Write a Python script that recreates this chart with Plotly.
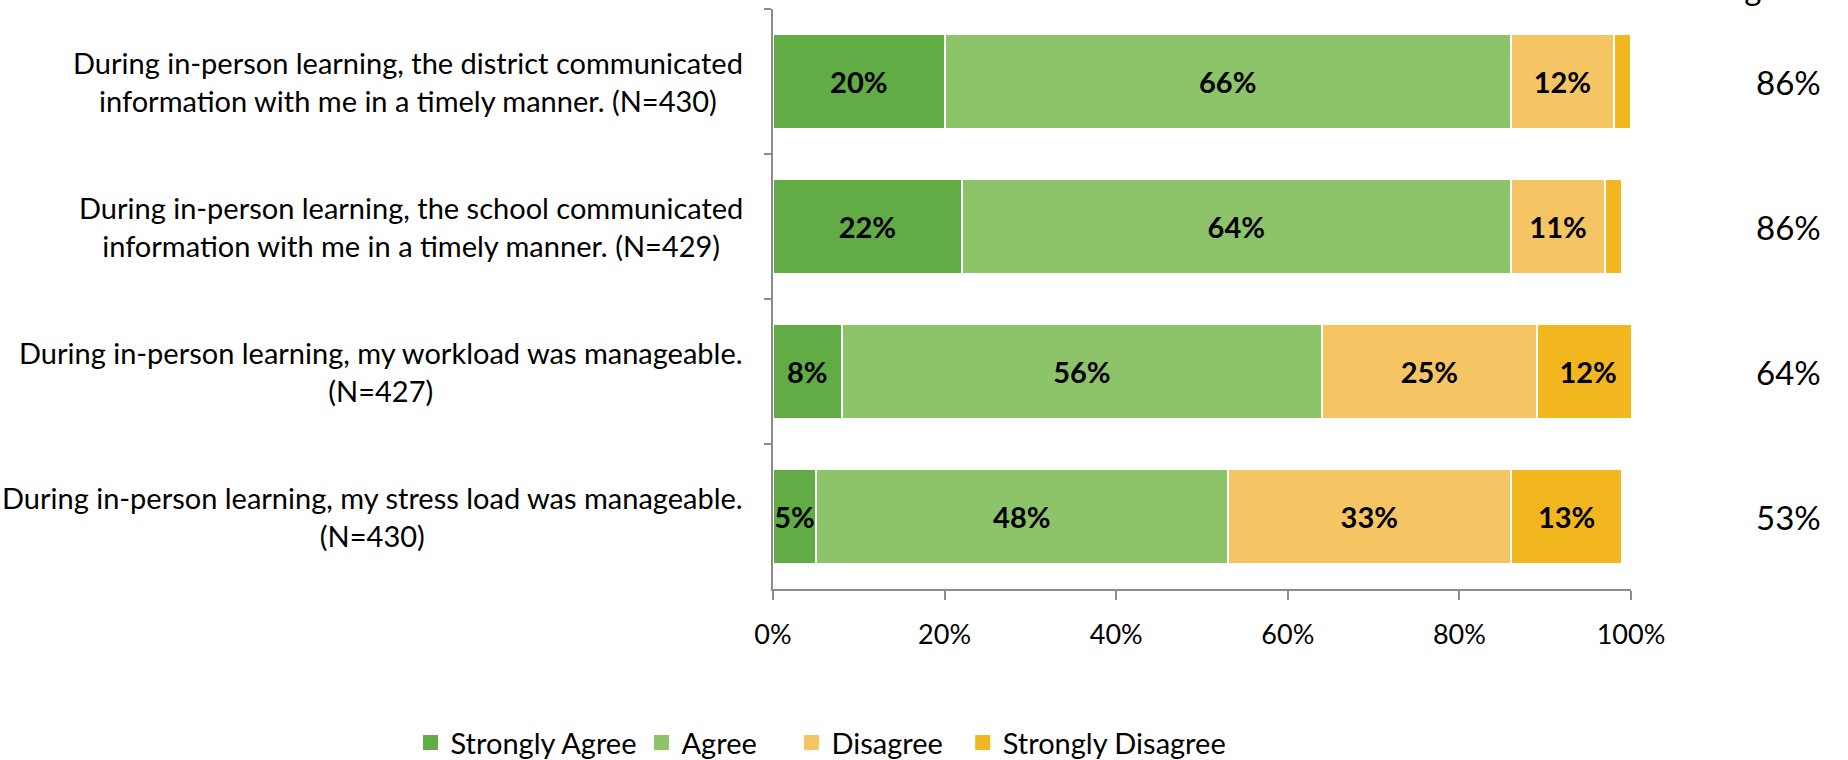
"""Stacked horizontal bar chart of in-person learning survey responses."""

import plotly.graph_objects as go

# ---- data -----------------------------------------------------------------
statements = [
    "During in-person learning, the district communicated<br>information with me in a timely manner. (N=430)",
    "During in-person learning, the school communicated<br>information with me in a timely manner. (N=429)",
    "During in-person learning, my workload was manageable.<br>(N=427)",
    "During in-person learning, my stress load was manageable.<br>(N=430)",
]
strongly_agree = [20, 22, 8, 5]
agree = [66, 64, 56, 48]
disagree = [12, 11, 25, 33]
strongly_disagree = [2, 2, 12, 13]
pct_agree = ["86%", "86%", "64%", "53%"]
x_ticks = [0, 20, 40, 60, 80, 100]
x_tick_labels = ["0%", "20%", "40%", "60%", "80%", "100%"]

series = [
    ("Strongly Agree", strongly_agree, "#62AC45"),
    ("Agree", agree, "#8DC46A"),
    ("Disagree", disagree, "#F6C563"),
    ("Strongly Disagree", strongly_disagree, "#F2B71E"),
]
# extra space after some legend entries, the original legend is spaced wider
legend_pad = {"Strongly Agree": 0, "Agree": 4, "Disagree": 2, "Strongly Disagree": 0}

FONT = "Lato"
AXIS_GREY = "#8C8C8C"

fig = go.Figure()

for name, vals, color in series:
    fig.add_trace(
        go.Bar(
            y=statements,
            x=vals,
            name=name,
            orientation="h",
            marker=dict(color=color, line=dict(color="white", width=2)),
            text=[f"{v}%" if v >= 5 else "" for v in vals],
            textposition="inside",
            insidetextanchor="middle",
            textangle=0,
            textfont=dict(family=FONT, size=29, color="black", weight="bold"),
            cliponaxis=True,
            showlegend=False,
        )
    )

# legend swatches (bigger squares than the default bar swatch)
for name, _, color in series:
    fig.add_trace(
        go.Scatter(
            x=[None],
            y=[None],
            mode="markers",
            name=name + "\u00a0" * legend_pad[name],
            marker=dict(symbol="square", size=15, color=color),
        )
    )

# statement labels, lines centred on each other
for stmt in statements:
    fig.add_annotation(
        x=0,
        y=stmt,
        xref="paper",
        yref="y",
        text=stmt,
        showarrow=False,
        xanchor="right",
        align="center",
        xshift=-28,
        font=dict(family=FONT, size=29, color="black"),
    )

# % agree column
for stmt, txt in zip(statements, pct_agree):
    fig.add_annotation(
        x=1.183,
        y=stmt,
        xref="paper",
        yref="y",
        text=txt,
        showarrow=False,
        xanchor="center",
        font=dict(family=FONT, size=33, color="black"),
    )

# header, mostly cut off at the top edge in the original
fig.add_annotation(
    x=1.207,
    y=1,
    xref="paper",
    yref="paper",
    text="% Agree",
    showarrow=False,
    xanchor="right",
    yanchor="bottom",
    yshift=0,
    font=dict(family=FONT, size=33, color="black"),
)

fig.update_layout(
    barmode="stack",
    bargap=0.35,
    width=1848,
    height=760,
    margin=dict(l=773, r=217, t=9, b=171, autoexpand=False),
    plot_bgcolor="white",
    paper_bgcolor="white",
    font=dict(family=FONT, color="black"),
    uniformtext=dict(minsize=29, mode="show"),
    showlegend=True,
    legend=dict(
        orientation="h",
        x=-0.4225,
        xanchor="left",
        y=-0.265,
        yanchor="middle",
        font=dict(family=FONT, size=29, color="black"),
        traceorder="normal",
        itemsizing="trace",
    ),
    xaxis=dict(
        range=[0, 100],
        tickvals=x_ticks,
        ticktext=x_tick_labels,
        showgrid=False,
        zeroline=False,
        showline=True,
        linecolor=AXIS_GREY,
        linewidth=2,
        ticks="outside",
        ticklen=9,
        tickcolor=AXIS_GREY,
        tickwidth=2,
        tickfont=dict(family=FONT, size=27, color="black"),
        ticklabelstandoff=12,
    ),
    yaxis=dict(
        autorange="reversed",
        showticklabels=False,
        showgrid=False,
        showline=True,
        linecolor=AXIS_GREY,
        linewidth=2,
        ticks="outside",
        tickson="boundaries",
        ticklen=7,
        tickcolor=AXIS_GREY,
        tickwidth=2,
    ),
)

# the page's default 8px body margin would shift the whole figure
fig.write_html(
    "out.html",
    config={"displayModeBar": False},
    post_script="document.body.style.margin = '0';",
)
